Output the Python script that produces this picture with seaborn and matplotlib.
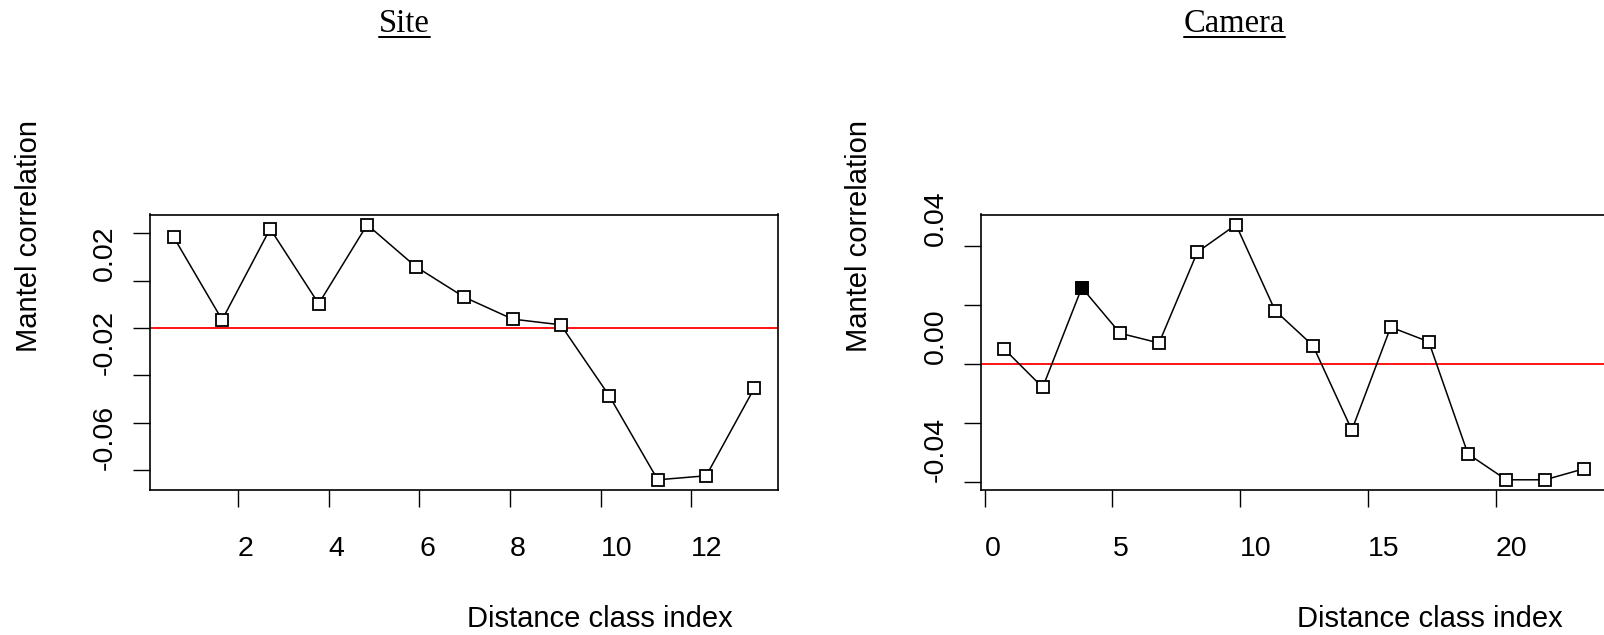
import matplotlib
matplotlib.use("Agg")
import matplotlib.pyplot as plt
from matplotlib import font_manager as fm
from matplotlib.lines import Line2D
from matplotlib.transforms import IdentityTransform
import seaborn as sns
import pandas as pd

# ---------------- data ----------------
site_class = [0.58, 1.65, 2.71, 3.78, 4.85, 5.92, 6.99, 8.06, 9.12, 10.19, 11.26, 12.33, 13.39]
site_r = [0.0385, 0.0035, 0.0420, 0.0103, 0.0437, 0.0260, 0.0131, 0.0038, 0.0014,
          -0.0286, -0.0641, -0.0624, -0.0254]
site_signif = [False] * 13

camera_class = [0.76, 2.27, 3.80, 5.30, 6.82, 8.32, 9.83, 11.36, 12.84, 14.36, 15.88,
                17.37, 18.90, 20.40, 21.91, 23.42]
camera_r = [0.0051, -0.0080, 0.0259, 0.0104, 0.0071, 0.0380, 0.0473, 0.0181, 0.0062,
            -0.0225, 0.0125, 0.0075, -0.0306, -0.0394, -0.0394, -0.0357]
camera_signif = [False, False, True] + [False] * 13

site_xticks = [2, 4, 6, 8, 10, 12]
site_yticks = [-0.06, -0.04, -0.02, 0.00, 0.02, 0.04]
site_ylabels = ["-0.06", "", "-0.02", "", "0.02", ""]
camera_xticks = [0, 5, 10, 15, 20]
camera_yticks = [-0.04, -0.02, 0.00, 0.02, 0.04]
camera_ylabels = ["-0.04", "", "0.00", "", "0.04"]

titles = ["Site", "Camera"]
xlab = "Distance class index"
ylab = "Mantel correlation"

# ---------------- style ----------------
sns.set_theme(style="white")
names = {f.name for f in fm.fontManager.ttflist}
narrow = "Liberation Sans Narrow" in names
plt.rcParams["font.family"] = (["Liberation Sans Narrow"] if narrow else []) + ["Liberation Sans", "DejaVu Sans"]
FS = 24.5 if narrow else 21
TFS = 24 if narrow else 20.5

W, H = 1604, 635
fig = plt.figure(figsize=(W / 100, H / 100), dpi=100)
fig.patch.set_facecolor("white")

ax_pos = [
    [150.4 / W, 1 - 490 / H, 627.1 / W, 275.5 / H],
    [980.9 / W, 1 - 490 / H, 625.8 / W, 275.5 / H],
]

panels = [
    (site_class, site_r, site_signif, site_xticks, site_yticks, site_ylabels),
    (camera_class, camera_r, camera_signif, camera_xticks, camera_yticks, camera_ylabels),
]

TITLE_Y = 1.664
title_texts = []
for i, (xs, ys, sig, xt, yt, yl) in enumerate(panels):
    ax = fig.add_axes(ax_pos[i])
    df = pd.DataFrame({"cls": xs, "r": ys, "sig": sig})
    sns.lineplot(data=df, x="cls", y="r", ax=ax, color="black", lw=1.1,
                 marker="s", markersize=8.8, markerfacecolor="white",
                 markeredgecolor="black", markeredgewidth=1.3, zorder=3)
    if df["sig"].any():
        sns.scatterplot(data=df[df["sig"]], x="cls", y="r", ax=ax, marker="s",
                        s=8.8 ** 2, color="black", edgecolor="black", linewidth=1.3,
                        zorder=4, legend=False)
    ax.axhline(0, color="red", lw=1.3, zorder=2)
    ax.margins(x=0.04, y=0.04)

    for sp in ax.spines.values():
        sp.set_visible(True)
        sp.set_color("black")
        sp.set_linewidth(1.2)

    ax.set_xticks(xt)
    ax.set_xticklabels([str(v) for v in xt])
    ax.set_yticks(yt)
    ax.set_yticklabels(yl)
    ax.tick_params(axis="both", direction="out", length=12.2, width=1.0,
                   color="black", labelcolor="black", labelsize=TFS,
                   bottom=True, left=True)
    ax.tick_params(axis="x", pad=21)
    ax.tick_params(axis="y", pad=11)
    for lab in ax.get_xticklabels():
        lab.set_horizontalalignment("left")
    for lab in ax.get_yticklabels():
        lab.set_rotation(90)
        lab.set_rotation_mode("anchor")
        lab.set_horizontalalignment("left")
        lab.set_verticalalignment("bottom")

    ax.set_xlabel(xlab, fontsize=FS, color="black", ha="left", va="baseline")
    ax.xaxis.set_label_coords(0.505, -0.497)
    ax.set_ylabel(ylab, fontsize=FS, color="black", ha="left", va="center",
                  rotation=90, rotation_mode="anchor")
    ax.yaxis.set_label_coords(-0.194, 0.5)
    ax.grid(False)

    t = ax.text(0.405, TITLE_Y, titles[i], transform=ax.transAxes, ha="center",
                va="baseline", fontsize=23.5, family=["Liberation Serif", "DejaVu Serif"],
                color="black")
    title_texts.append((ax, t))

fig.canvas.draw()
renderer = fig.canvas.get_renderer()
for ax, t in title_texts:
    bb = t.get_window_extent(renderer)
    base_y = ax.transAxes.transform((0.405, TITLE_Y))[1]
    uy = base_y - 5.2
    fig.add_artist(Line2D([bb.x0, bb.x1], [uy, uy], transform=IdentityTransform(),
                          color="black", lw=1.45))

fig.savefig("out.png", dpi=100, facecolor="white")
